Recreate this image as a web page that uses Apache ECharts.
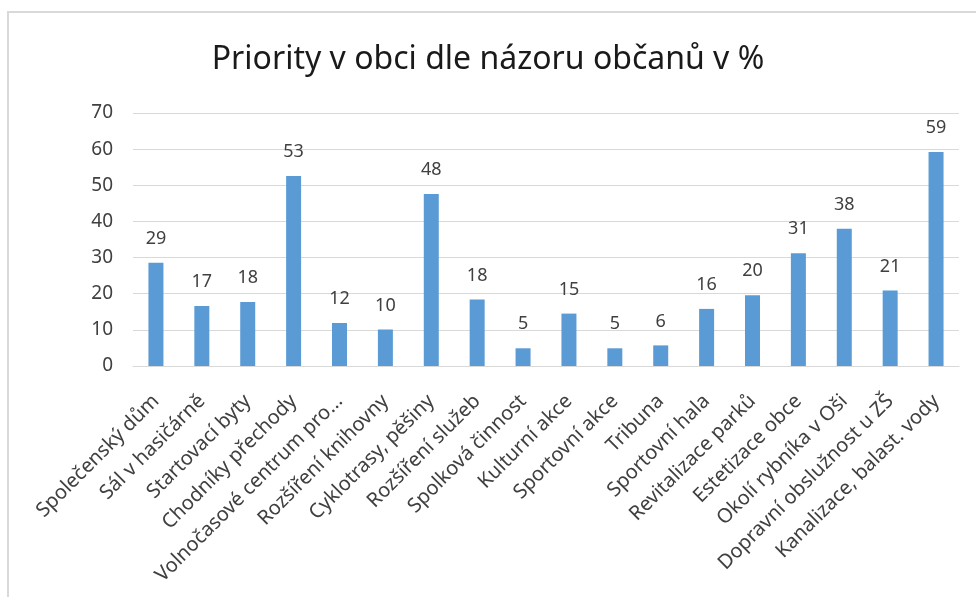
<!DOCTYPE html>
<html>
<head>
<meta charset="utf-8">
<script src="https://cdn.jsdelivr.net/npm/echarts@6/dist/echarts.min.js"></script>
<style>
  html, body { margin: 0; padding: 0; background: #fff; }
  #chart { width: 976px; height: 597px; }
</style>
</head>
<body>
<div id="chart"></div>
<script>
// data
var categories = [
  'Společenský dům', 'Sál v hasičárně', 'Startovací byty', 'Chodníky přechody',
  'Volnočasové centrum pro...', 'Rozšíření knihovny', 'Cyklotrasy, pěšiny',
  'Rozšíření služeb', 'Spolková činnost', 'Kulturní akce', 'Sportovní akce',
  'Tribuna', 'Sportovní hala', 'Revitalizace parků', 'Estetizace obce',
  'Okolí rybníka v Oši', 'Dopravní obslužnost u ZŠ', 'Kanalizace, balast. vody'
];
var values = [28.6, 16.6, 17.7, 52.6, 11.9, 10.1, 47.6, 18.4, 4.9, 14.5, 4.9, 5.7, 15.8, 19.6, 31.2, 38.0, 20.9, 59.2];
var yTicks = [0, 10, 20, 30, 40, 50, 60, 70];

var font = '"Noto Sans", "Open Sans", sans-serif';
var chart = echarts.init(document.getElementById('chart'));
chart.setOption({
  animation: false,
  backgroundColor: '#fff',
  title: {
    text: 'Priority v obci dle názoru občanů v %',
    left: 'center',
    top: 39,
    textStyle: { fontFamily: font, fontSize: 32, fontWeight: 'normal', color: '#1a1a1a' }
  },
  graphic: [{
    type: 'rect',
    shape: { x: 8, y: 12, width: 1200, height: 1200 },
    style: { fill: 'none', stroke: '#d9d9d9', lineWidth: 2 },
    silent: true
  }],
  grid: { left: 133, right: 17, top: 113, bottom: 231 },
  xAxis: {
    type: 'category',
    data: categories,
    axisLine: { lineStyle: { color: '#d9d9d9', width: 1 } },
    axisTick: { show: false },
    axisLabel: {
      rotate: 45,
      interval: 0,
      margin: 32,
      fontFamily: font,
      fontSize: 20,
      color: '#404040'
    }
  },
  yAxis: {
    type: 'value',
    min: yTicks[0],
    max: yTicks[yTicks.length - 1],
    interval: 10,
    axisLine: { show: false },
    axisTick: { show: false },
    splitLine: { lineStyle: { color: '#d9d9d9', width: 1 } },
    axisLabel: { margin: 20, fontFamily: font, fontSize: 19, color: '#404040' }
  },
  series: [{
    type: 'bar',
    data: values,
    barWidth: 15,
    itemStyle: { color: '#5b9bd5' },
    label: {
      show: true,
      position: 'top',
      distance: 15,
      fontFamily: font,
      fontSize: 18,
      color: '#404040',
      formatter: function (p) { return Math.round(p.value); }
    }
  }]
});
</script>
</body>
</html>
